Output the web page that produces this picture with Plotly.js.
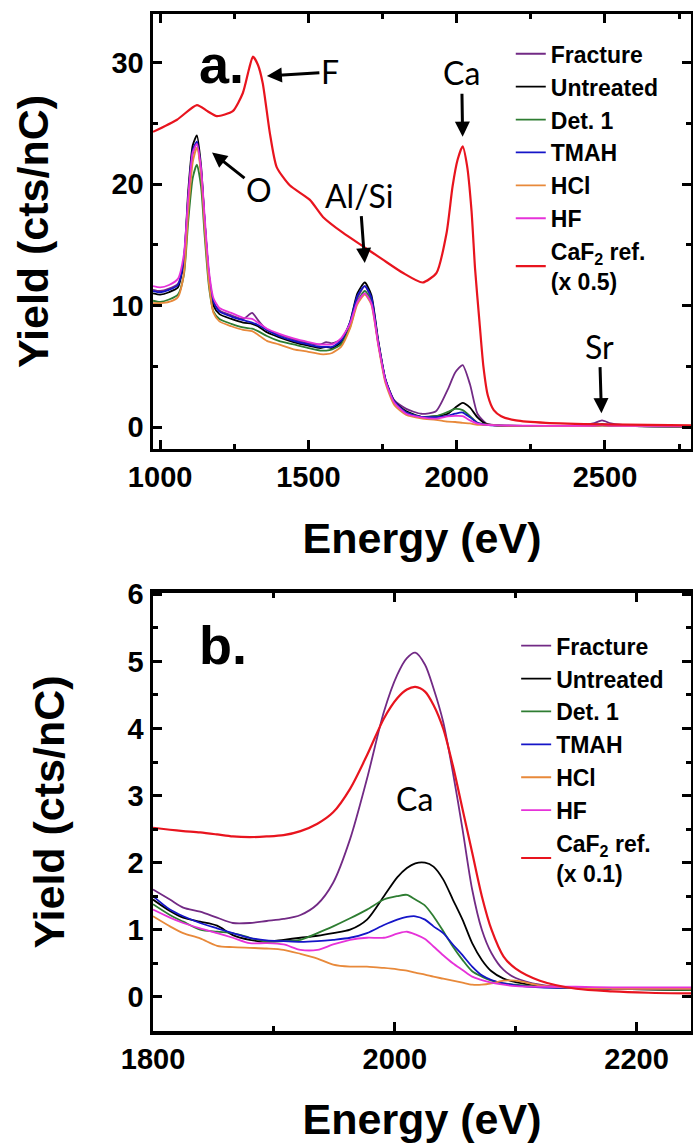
<!DOCTYPE html>
<html><head><meta charset="utf-8">
<script src="https://cdn.plot.ly/plotly-3.0.1.min.js"></script>
<style>html,body{margin:0;padding:0;background:#fff}#chart{width:693px;height:1143px}</style>
</head><body><div id="chart"></div>
<script>
// ---------- data ----------
const seriesNames = ["Fracture", "Untreated", "Det. 1", "TMAH", "HCl", "HF"];
const seriesColors = ["#722a85", "#000000", "#2e7d32", "#1515c8", "#e8893a", "#e632d9"];
const refNameA = "CaF<sub>2</sub> ref.<br>(x 0.5)";
const refNameB = "CaF<sub>2</sub> ref.<br>(x 0.1)";
const refColor = "#e8141e";

// Panel a: wide energy scan
const energyA = [976,1000,1030,1060,1080,1095,1110,1124,1138,1150,1165,1180,1200,1240,1280,1310,1330,1360,1400,1450,1500,1540,1560,1580,1610,1640,1665,1690,1712,1735,1760,1790,1830,1880,1930,1970,1995,2020,2045,2070,2100,2150,2250,2400,2460,2490,2520,2600,2790];
const fractureA = [11.3,11.2,11.4,11.8,13.5,18.5,22.5,23.4,21.0,17.0,12.5,10.3,9.6,9.2,8.9,9.4,8.8,8.0,7.6,7.2,6.9,6.8,7.0,6.9,7.2,8.5,10.6,11.6,10.6,7.0,3.9,2.2,1.5,1.1,1.3,3.1,4.5,5.1,3.5,1.1,0.3,0.12,0.1,0.1,0.3,0.55,0.3,0.1,0.05];
const untreatedA = [11.0,10.9,11.1,11.5,13.8,19.5,23.2,24.0,21.5,17.0,12.3,10.0,9.3,8.9,8.6,8.5,8.3,7.8,7.4,7.0,6.7,6.5,6.6,6.5,7.0,8.6,11.0,11.9,10.9,7.2,3.9,2.1,1.3,0.85,0.9,1.1,1.6,2.0,1.6,0.8,0.25,0.12,0.1,0.08,0.15,0.25,0.15,0.08,0.05];
const det1A = [10.4,10.3,10.5,10.9,12.5,17.0,20.5,21.6,19.8,15.8,11.5,9.5,8.9,8.5,8.2,8.1,7.9,7.5,7.1,6.8,6.5,6.3,6.3,6.4,6.8,8.2,10.3,11.2,10.4,7.0,3.8,2.0,1.2,0.85,0.9,1.25,1.5,1.4,0.9,0.35,0.2,0.12,0.1,0.08,0.1,0.15,0.1,0.08,0.05];
const tmahA = [11.2,11.1,11.3,11.7,13.8,19.0,22.8,23.5,21.2,17.0,12.4,10.3,9.5,9.1,8.8,8.6,8.4,8.0,7.5,7.1,6.8,6.6,6.6,6.6,7.1,8.6,10.8,11.6,10.7,7.1,3.9,2.1,1.2,0.85,0.82,0.92,1.1,1.2,0.8,0.35,0.18,0.12,0.1,0.08,0.1,0.15,0.1,0.08,0.05];
const hclA = [10.2,10.2,10.3,10.7,12.6,17.8,21.8,23.0,20.8,16.5,11.8,9.4,8.7,8.3,8.0,7.9,7.6,7.1,6.8,6.4,6.2,6.0,6.0,6.1,6.6,8.1,10.1,10.9,10.1,6.8,3.6,1.8,1.0,0.72,0.6,0.45,0.42,0.35,0.3,0.18,0.2,0.12,0.1,0.08,0.1,0.12,0.1,0.08,0.05];
const hfA = [11.6,11.5,11.7,12.2,14.2,19.0,22.6,23.3,21.3,17.4,12.8,10.6,9.8,9.4,9.0,8.9,8.6,8.1,7.7,7.3,7.0,6.8,6.8,6.8,7.3,8.5,10.3,11.0,10.2,6.9,3.8,2.0,1.1,0.8,0.7,0.88,0.92,0.9,0.55,0.28,0.18,0.14,0.12,0.1,0.12,0.18,0.12,0.1,0.08];
const refEnergyA = [976,1057,1124,1160,1191,1245,1279,1300,1313,1330,1346,1370,1393,1437,1505,1549,1616,1683,1750,1818,1885,1932,1966,1986,2003,2020,2035,2050,2062,2077,2090,2105,2125,2150,2200,2300,2500,2790];
const refA = [24.3,25.3,26.5,26.0,25.6,26.0,27.5,29.5,30.5,29.8,28.3,24.2,21.4,19.9,18.7,17.3,16.0,14.9,13.8,12.7,11.9,12.7,16.0,19.8,22.0,23.1,21.5,17.8,13.0,8.6,5.0,2.6,1.4,0.9,0.55,0.35,0.22,0.15];

// Panel b: Ca K-edge region
const energyB = [1800,1814,1825,1839,1853,1866,1880,1894,1908,1922,1936,1949,1963,1977,1991,2002,2010,2017,2025,2032,2040,2048,2056,2064,2072,2080,2090,2100,2120,2150,2180,2210,2245];
const fractureB = [1.60,1.45,1.33,1.27,1.18,1.10,1.10,1.13,1.16,1.22,1.38,1.70,2.35,3.25,4.25,4.8,5.05,5.13,4.95,4.6,4.1,3.35,2.5,1.6,1.0,0.65,0.4,0.28,0.18,0.13,0.12,0.11,0.1];
const untreatedB = [1.45,1.28,1.18,1.12,1.06,0.92,0.85,0.82,0.85,0.88,0.91,0.95,1.0,1.15,1.5,1.78,1.92,1.99,2.0,1.94,1.75,1.45,1.15,0.8,0.55,0.38,0.27,0.22,0.16,0.13,0.12,0.11,0.1];
const det1B = [1.38,1.22,1.12,1.0,0.97,0.95,0.88,0.82,0.83,0.85,0.95,1.05,1.17,1.3,1.45,1.5,1.52,1.45,1.36,1.2,0.98,0.75,0.55,0.38,0.3,0.24,0.2,0.18,0.15,0.13,0.12,0.11,0.1];
const tmahB = [1.5,1.3,1.2,1.1,1.02,0.95,0.88,0.84,0.83,0.82,0.83,0.85,0.88,0.95,1.07,1.15,1.19,1.2,1.15,1.05,0.95,0.78,0.62,0.45,0.32,0.25,0.2,0.17,0.14,0.13,0.12,0.12,0.12];
const hclB = [1.2,1.05,0.95,0.87,0.76,0.74,0.73,0.72,0.70,0.64,0.57,0.48,0.45,0.45,0.43,0.41,0.39,0.36,0.33,0.3,0.27,0.24,0.21,0.18,0.18,0.2,0.24,0.24,0.17,0.13,0.12,0.12,0.12];
const hfB = [1.3,1.18,1.1,1.02,0.95,0.88,0.8,0.8,0.78,0.7,0.7,0.78,0.85,0.88,0.88,0.94,0.97,0.93,0.86,0.75,0.62,0.5,0.4,0.3,0.25,0.21,0.18,0.16,0.15,0.15,0.14,0.14,0.14];
const refB = [2.52,2.49,2.47,2.45,2.42,2.39,2.38,2.39,2.41,2.47,2.58,2.75,3.1,3.6,4.15,4.45,4.58,4.62,4.55,4.35,4.0,3.45,2.8,2.15,1.5,1.0,0.6,0.42,0.24,0.12,0.08,0.06,0.05];

// ---------- traces ----------
const seriesA = [fractureA, untreatedA, det1A, tmahA, hclA, hfA];
const seriesB = [fractureB, untreatedB, det1B, tmahB, hclB, hfB];
const traces = [];
seriesNames.forEach((n, i) => {
  traces.push({x: energyA, y: seriesA[i], type: 'scatter', mode: 'lines', name: n,
    line: {color: seriesColors[i], width: 1.8, shape: 'spline', smoothing: 0.6},
    xaxis: 'x', yaxis: 'y', legend: 'legend'});
});
traces.push({x: refEnergyA, y: refA, type: 'scatter', mode: 'lines', name: refNameA,
  line: {color: refColor, width: 2.2, shape: 'spline', smoothing: 0.6}, xaxis: 'x', yaxis: 'y', legend: 'legend'});
seriesNames.forEach((n, i) => {
  traces.push({x: energyB, y: seriesB[i], type: 'scatter', mode: 'lines', name: n,
    line: {color: seriesColors[i], width: 1.8, shape: 'spline', smoothing: 0.8},
    xaxis: 'x2', yaxis: 'y2', legend: 'legend2'});
});
traces.push({x: energyB, y: refB, type: 'scatter', mode: 'lines', name: refNameB,
  line: {color: refColor, width: 2.2, shape: 'spline', smoothing: 0.8}, xaxis: 'x2', yaxis: 'y2', legend: 'legend2'});

// ---------- layout ----------
const FONT = 'Liberation Sans, Arial, sans-serif';
const tickFont = {family: FONT, size: 29, color: '#000', weight: 'bold'};
const titleFont = {family: FONT, size: 43, color: '#000', weight: 'bold'};
function axisBase(extra) {
  return Object.assign({
    showline: true, linewidth: 3.5, linecolor: '#000', mirror: 'ticks',
    ticks: 'inside', ticklen: 9, tickwidth: 3, tickcolor: '#000',
    showgrid: false, zeroline: false, tickfont: tickFont, automargin: false
  }, extra);
}
const annFont = {family: 'Lato, Open Sans, sans-serif', size: 32, color: '#000'};
function arrowAnn(text, x, y, ax, ay, xr, yr) {
  return {text: text, x: x, y: y, xref: xr, yref: yr, ax: ax, ay: ay, showarrow: true,
    arrowhead: 2, arrowsize: 1, arrowwidth: 3, arrowcolor: '#000', font: annFont, standoff: 0};
}
const legendFont = {family: FONT, size: 23, color: '#000', weight: 'bold'};

const layout = {
  width: 693, height: 1143,
  margin: {l: 153, r: 2, t: 14, b: 112},
  paper_bgcolor: '#fff', plot_bgcolor: '#fff',
  showlegend: true,
  xaxis: axisBase({domain: [0, 1], anchor: 'y', range: [976, 2790], tick0: 0, dtick: 500,
    minor: {dtick: 250, ticks: 'inside', ticklen: 5, tickwidth: 3, tickcolor: '#000'},
    title: {text: 'Energy (eV)', font: titleFont, standoff: 31}}),
  yaxis: axisBase({domain: [0.5723, 1], anchor: 'x', range: [-1.8, 34], tick0: 0, dtick: 10,
    minor: {dtick: 5, ticks: 'inside', ticklen: 5, tickwidth: 3, tickcolor: '#000'},
    title: {text: 'Yield (cts/nC)', font: titleFont, standoff: 50}}),
  xaxis2: axisBase({domain: [0, 1], anchor: 'y2', range: [1800, 2245], tick0: 0, dtick: 200,
    minor: {dtick: 100, ticks: 'inside', ticklen: 5, tickwidth: 3, tickcolor: '#000'},
    title: {text: 'Energy (eV)', font: titleFont, standoff: 31}}),
  yaxis2: axisBase({domain: [0, 0.4307], anchor: 'x2', range: [-0.51, 6.02], tick0: 0, dtick: 1,
    minor: {dtick: 0.5, ticks: 'inside', ticklen: 5, tickwidth: 3, tickcolor: '#000'},
    title: {text: 'Yield (cts/nC)', font: titleFont, standoff: 50}}),
  legend: {x: 0.665, y: 0.982, xanchor: 'left', yanchor: 'top', xref: 'paper', yref: 'paper',
    bgcolor: 'rgba(0,0,0,0)', borderwidth: 0, font: legendFont, tracegroupgap: 0, itemclick: false},
  legend2: {x: 0.675, y: 0.400, xanchor: 'left', yanchor: 'top', xref: 'paper', yref: 'paper',
    bgcolor: 'rgba(0,0,0,0)', borderwidth: 0, font: legendFont, tracegroupgap: 0, itemclick: false},
  annotations: [
    {text: '<b>a.</b>', x: 1124, y: 29.9, xref: 'x', yref: 'y', xanchor: 'left', yanchor: 'middle', showarrow: false,
      font: {family: FONT, size: 54, color: '#000'}},
    {text: '<b>b.</b>', x: 1836, y: 5.25, xref: 'x2', yref: 'y2', xanchor: 'left', yanchor: 'middle', showarrow: false,
      font: {family: FONT, size: 54, color: '#000'}},
    arrowAnn('F', 1360, 28.9, 63, -4, 'x', 'y'),
    arrowAnn('O', 1175, 22.6, 47, 37, 'x', 'y'),
    arrowAnn('Al/Si', 1690, 13.5, -5, -68, 'x', 'y'),
    arrowAnn('Ca', 2020, 23.9, -1, -64, 'x', 'y'),
    arrowAnn('Sr', 2488, 1.15, -2, -67, 'x', 'y'),
    {text: 'Ca', x: 2016, y: 2.95, xref: 'x2', yref: 'y2', showarrow: false, font: annFont}
  ]
};

Plotly.newPlot('chart', traces, layout, {displayModeBar: false, staticPlot: true});
</script>
</body></html>
